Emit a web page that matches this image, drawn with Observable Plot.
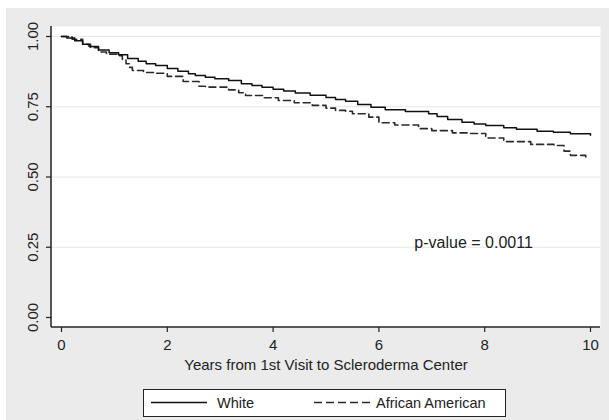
<!DOCTYPE html>
<html>
<head>
<meta charset="utf-8">
<script src="https://cdn.jsdelivr.net/npm/d3@7"></script>
<script src="https://cdn.jsdelivr.net/npm/@observablehq/plot@0.6"></script>
<style>
  body { margin: 0; background: #fff; font-family: "Liberation Sans", Arial, sans-serif; }
  #wrap { position: relative; width: 609px; height: 420px; background: #fff; overflow: hidden; }
  #bg { position: absolute; left: 6px; top: 8px; right: 0; bottom: 0; background: #ebebeb; }
  #chart { position: absolute; left: 0; top: 0; }
  #legend { position: absolute; left: 143px; top: 389px; width: 363px; height: 28px; box-sizing: border-box;
            border: 1.5px solid #222; background: #fff; }
  #legend svg { display: block; }
</style>
</head>
<body>
<div id="wrap">
  <div id="bg"></div>
  <div id="chart"></div>
  <div id="legend"></div>
</div>
<script>
// ---- data ----
const whiteYears = [0, 0.1, 0.25, 0.4, 0.52, 0.7, 0.9, 1.08, 1.25, 1.45, 1.6, 1.78, 2.0, 2.2, 2.4, 2.53, 2.72, 2.9, 3.16, 3.4, 3.6, 3.79, 4.0, 4.2, 4.42, 4.7, 5.0, 5.18, 5.37, 5.6, 5.85, 6.12, 6.5, 6.94, 7.1, 7.3, 7.57, 7.8, 8.02, 8.36, 8.6, 8.99, 9.3, 9.62, 10.0];
const whiteSurv  = [1.0, 0.995, 0.985, 0.972, 0.964, 0.952, 0.942, 0.935, 0.922, 0.912, 0.903, 0.897, 0.886, 0.876, 0.867, 0.861, 0.855, 0.850, 0.843, 0.832, 0.826, 0.819, 0.812, 0.806, 0.799, 0.791, 0.783, 0.776, 0.770, 0.758, 0.748, 0.739, 0.733, 0.725, 0.715, 0.705, 0.695, 0.689, 0.683, 0.675, 0.670, 0.663, 0.659, 0.654, 0.649];

const aaYears = [0, 0.2, 0.4, 0.55, 0.7, 0.85, 1.08, 1.15, 1.22, 1.28, 1.34, 1.55, 1.78, 2.0, 2.3, 2.6, 2.72, 3.16, 3.35, 3.48, 3.8, 4.1, 4.4, 4.74, 5.0, 5.18, 5.37, 5.5, 5.81, 6.0, 6.3, 6.75, 7.0, 7.39, 7.7, 8.02, 8.36, 8.87, 9.31, 9.5, 9.62, 9.91];
const aaSurv  = [1.0, 0.99, 0.972, 0.96, 0.945, 0.937, 0.932, 0.918, 0.903, 0.89, 0.879, 0.872, 0.869, 0.858, 0.84, 0.823, 0.82, 0.81, 0.8, 0.79, 0.782, 0.772, 0.764, 0.755, 0.745, 0.737, 0.734, 0.725, 0.713, 0.693, 0.685, 0.672, 0.665, 0.657, 0.655, 0.639, 0.626, 0.616, 0.612, 0.592, 0.577, 0.571];

const xTicks = [0, 2, 4, 6, 8, 10];
const yTicks = [0, 0.25, 0.5, 0.75, 1];
const gridTicks = [0.25, 0.5, 0.75, 1];
const xTitle = "Years from 1st Visit to Scleroderma Center";
const pLabel = [{x: 7.79, y: 0.267, text: "p-value = 0.0011"}];
const groups = ["White", "African American"];

const white = whiteYears.map((t, i) => ({t, s: whiteSurv[i]}));
const aa = aaYears.map((t, i) => ({t, s: aaSurv[i]}));

const W = 609, H = 380, mL = 51, mR = 9, mT = 26, mB = 53;
const font = "'Liberation Sans', Arial, sans-serif";

const plot = Plot.plot({
  width: W, height: H,
  marginLeft: mL, marginRight: mR, marginTop: mT, marginBottom: mB,
  style: {background: "transparent", fontFamily: font, fontSize: "15px", color: "#222"},
  x: {domain: [0, 10], insetLeft: 10, insetRight: 10},
  y: {domain: [0, 1], insetTop: 10, insetBottom: 10},
  marks: [
    Plot.frame({fill: "white", stroke: "none"}),
    Plot.gridY(gridTicks, {stroke: "#e6e6e6", strokeOpacity: 1, strokeWidth: 1}),
    Plot.line(aa, {x: "t", y: "s", curve: "step-after", stroke: "#2a2a2a", strokeWidth: 1.6, strokeDasharray: "7,4"}),
    Plot.line(white, {x: "t", y: "s", curve: "step-after", stroke: "#111", strokeWidth: 1.5}),
    Plot.axisX(xTicks, {tickSize: 5, tickPadding: 7, label: null, fontSize: 15, stroke: "#222", strokeWidth: 1.2}),
    Plot.axisY(yTicks, {tickSize: 5, tickPadding: 9, tickRotate: -90, tickFormat: d3.format(".2f"), label: null, fontSize: 15, stroke: "#222", strokeWidth: 1.2}),
    Plot.text(pLabel, {x: "x", y: "y", text: "text", fontSize: 16, fill: "#222"}),
    Plot.text([xTitle], {frameAnchor: "bottom", dy: 42, fontSize: 15, fill: "#222"})
  ]
});

// axis lines (Stata style: left and bottom only)
const svg = d3.select(plot);
svg.append("line").attr("x1", mL).attr("x2", mL).attr("y1", mT).attr("y2", H - mB)
  .attr("stroke", "#222").attr("stroke-width", 1.5);
svg.append("line").attr("x1", mL).attr("x2", W - mR).attr("y1", H - mB).attr("y2", H - mB)
  .attr("stroke", "#222").attr("stroke-width", 1.5);

document.getElementById("chart").appendChild(plot);

// legend
const lg = d3.select("#legend").append("svg").attr("width", 360).attr("height", 25)
  .style("font-family", font).style("font-size", "14.5px");
const items = [
  {x1: 7, x2: 63, tx: 73, dash: null, stroke: "#111"},
  {x1: 170, x2: 226, tx: 232, dash: "8,4", stroke: "#2a2a2a"}
];
items.forEach((it, i) => {
  lg.append("line").attr("x1", it.x1).attr("x2", it.x2).attr("y1", 12.5).attr("y2", 12.5)
    .attr("stroke", it.stroke).attr("stroke-width", 1.5).attr("stroke-dasharray", it.dash);
  lg.append("text").attr("x", it.tx).attr("y", 12.5).attr("dy", "0.35em").attr("fill", "#222").text(groups[i]);
});
</script>
</body>
</html>
